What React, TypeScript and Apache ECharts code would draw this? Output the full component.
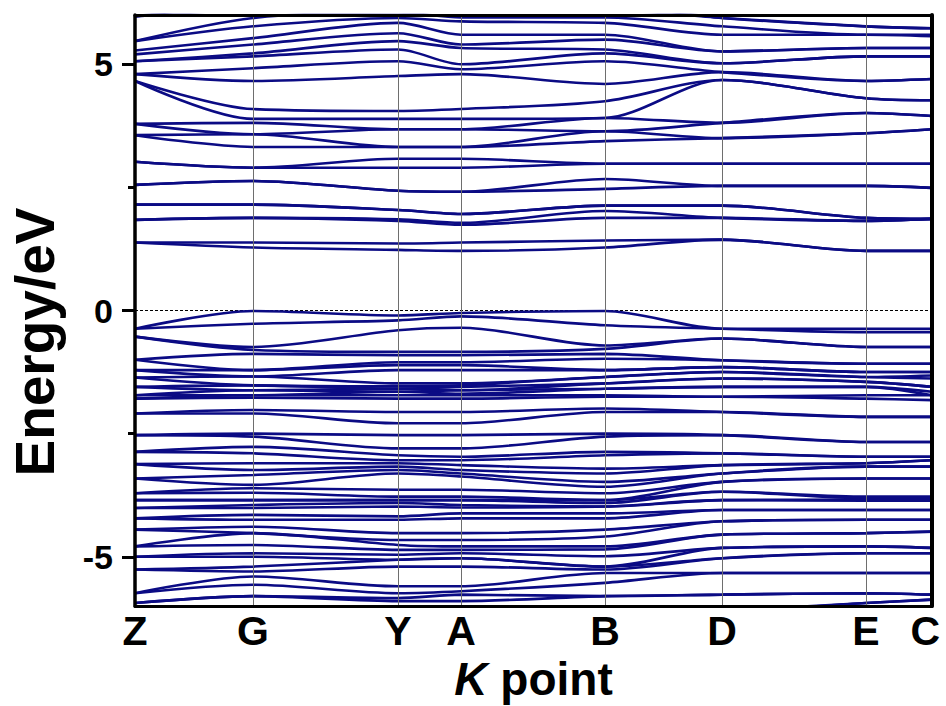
import React, { useEffect, useRef } from 'react';
import * as echarts from 'echarts';

// High-symmetry k-points and their positions along the path
const kLabels = ['Z', 'G', 'Y', 'A', 'B', 'D', 'E', 'C'];
const kPositions = [0, 118, 263, 326, 470, 587, 731, 797];

// Conduction bands (eV), sorted, at each k-point
const cbZ = [1.38, 1.38, 1.84, 1.84, 2.15, 2.15, 2.55, 2.55, 3.02, 3.02, 3.56, 3.56, 3.79, 3.79, 4.66, 4.66, 4.8, 4.8, 5.06, 5.06, 5.2, 5.28, 5.47, 5.47, 5.97, 5.97];
const cbG = [1.28, 1.38, 1.88, 1.88, 2.15, 2.15, 2.63, 2.63, 2.9, 2.9, 3.32, 3.58, 3.58, 3.81, 3.89, 4.09, 4.66, 4.92, 5.16, 5.22, 5.4, 5.53, 5.77, 5.94, 6.1, 6.2];
const cbY = [1.23, 1.36, 1.82, 1.85, 2.04, 2.04, 2.43, 2.43, 2.9, 3.08, 3.32, 3.32, 3.68, 3.68, 3.89, 4.05, 4.76, 5.06, 5.3, 5.47, 5.63, 5.84, 5.94, 6.05, 6.1, 6.2];
const cbA = [1.21, 1.38, 1.74, 1.78, 1.96, 1.96, 2.41, 2.41, 2.9, 3.08, 3.32, 3.32, 3.68, 3.68, 3.89, 4.09, 4.8, 4.9, 5.0, 5.33, 5.4, 5.6, 5.87, 5.95, 6.1, 6.2];
const cbB = [1.28, 1.42, 1.88, 2.02, 2.13, 2.13, 2.47, 2.67, 2.98, 2.98, 3.44, 3.64, 3.64, 3.91, 3.91, 4.25, 4.6, 5.06, 5.22, 5.3, 5.5, 5.6, 5.84, 5.95, 6.1, 6.2];
const cbD = [1.44, 1.44, 1.88, 1.88, 2.13, 2.13, 2.53, 2.53, 2.98, 2.98, 3.5, 3.5, 3.81, 3.81, 4.68, 4.68, 4.84, 4.84, 5.02, 5.02, 5.26, 5.26, 5.6, 5.77, 5.94, 5.94];
const cbE = [1.21, 1.21, 1.82, 1.82, 1.88, 1.88, 2.53, 2.53, 2.98, 2.98, 3.6, 3.6, 4.01, 4.01, 4.31, 4.31, 4.66, 4.66, 5.16, 5.16, 5.33, 5.33, 5.6, 5.6, 5.77, 5.77];
const cbC = [1.21, 1.21, 1.86, 1.86, 1.86, 1.86, 2.49, 2.49, 2.98, 2.98, 3.68, 3.68, 3.95, 3.95, 4.27, 4.27, 4.7, 4.7, 5.16, 5.16, 5.33, 5.33, 5.57, 5.6, 5.73, 5.73];

// Valence bands (eV), sorted, at each k-point (values below -6 lie outside the frame)
const vbZ = [-0.37, -0.37, -0.53, -0.53, -1.0, -1.0, -1.21, -1.21, -1.36, -1.36, -1.55, -1.55, -1.72, -1.72, -1.79, -1.79, -2.09, -2.09, -2.53, -2.53, -2.87, -2.87, -3.12, -3.12, -3.41, -3.41, -3.71, -3.71, -3.85, -3.85, -4.01, -4.01, -4.22, -4.22, -4.45, -4.45, -4.79, -4.79, -5.0, -5.0, -5.26, -5.26, -5.74, -5.74, -5.94, -5.94, -6.2, -6.2];
const vbG = [-0.01, -0.27, -0.74, -0.8, -0.88, -1.21, -1.21, -1.34, -1.34, -1.52, -1.52, -1.62, -1.62, -1.72, -1.72, -1.77, -2.02, -2.09, -2.5, -2.56, -2.77, -2.9, -3.1, -3.24, -3.34, -3.54, -3.61, -3.7, -3.85, -3.85, -3.95, -4.01, -4.15, -4.25, -4.39, -4.52, -4.52, -4.76, -4.93, -5.0, -5.2, -5.3, -5.4, -5.57, -5.8, -5.8, -6.1, -6.2];
const vbY = [-0.1, -0.2, -0.4, -0.84, -0.91, -1.05, -1.11, -1.21, -1.48, -1.54, -1.59, -1.59, -1.65, -1.65, -1.72, -1.79, -2.06, -2.29, -2.53, -2.8, -2.94, -3.04, -3.1, -3.17, -3.24, -3.31, -3.64, -3.78, -3.85, -3.85, -3.91, -3.98, -4.18, -4.25, -4.52, -4.66, -4.76, -4.86, -4.96, -5.06, -5.06, -5.2, -5.6, -5.74, -5.84, -5.9, -6.1, -6.2];
const vbA = [-0.05, -0.12, -0.35, -0.84, -0.91, -1.05, -1.11, -1.21, -1.48, -1.52, -1.55, -1.62, -1.62, -1.69, -1.72, -1.79, -2.06, -2.29, -2.53, -2.8, -2.97, -3.04, -3.14, -3.24, -3.31, -3.37, -3.64, -3.78, -3.85, -3.85, -3.95, -4.0, -4.12, -4.22, -4.52, -4.66, -4.79, -4.86, -4.93, -5.03, -5.03, -5.2, -5.6, -5.7, -5.77, -5.9, -6.1, -6.2];
const vbB = [-0.01, -0.3, -0.71, -0.78, -0.88, -0.98, -1.21, -1.21, -1.35, -1.35, -1.48, -1.48, -1.59, -1.59, -1.72, -1.75, -1.99, -2.06, -2.5, -2.56, -2.87, -2.94, -3.21, -3.31, -3.48, -3.58, -3.71, -3.85, -3.85, -3.91, -3.98, -3.98, -4.12, -4.22, -4.45, -4.59, -4.79, -4.85, -4.99, -5.2, -5.2, -5.26, -5.33, -5.53, -5.8, -5.8, -6.1, -6.2];
const vbD = [-0.37, -0.37, -0.57, -0.57, -1.01, -1.01, -1.15, -1.15, -1.25, -1.25, -1.38, -1.38, -1.55, -1.55, -1.75, -1.75, -2.06, -2.06, -2.53, -2.53, -2.9, -2.9, -3.14, -3.14, -3.31, -3.31, -3.48, -3.48, -3.68, -3.68, -3.85, -3.85, -4.05, -4.05, -4.28, -4.28, -4.55, -4.55, -4.82, -4.82, -5.03, -5.03, -5.33, -5.33, -5.77, -5.77, -6.1, -6.1];
const vbE = [-0.37, -0.44, -0.74, -0.74, -1.08, -1.08, -1.25, -1.25, -1.35, -1.35, -1.45, -1.45, -1.55, -1.55, -1.72, -1.79, -2.16, -2.16, -2.67, -2.67, -2.97, -2.97, -3.1, -3.1, -3.17, -3.17, -3.41, -3.41, -3.78, -3.81, -3.84, -3.86, -4.05, -4.05, -4.25, -4.25, -4.52, -4.52, -4.79, -4.79, -4.93, -4.93, -5.33, -5.33, -5.74, -5.74, -5.94, -5.94];
const vbC = [-0.37, -0.44, -0.74, -0.74, -1.08, -1.08, -1.25, -1.25, -1.32, -1.38, -1.55, -1.55, -1.65, -1.72, -1.72, -1.82, -2.16, -2.16, -2.67, -2.67, -2.97, -2.97, -3.04, -3.04, -3.17, -3.17, -3.41, -3.41, -3.78, -3.81, -3.84, -3.86, -4.05, -4.05, -4.25, -4.25, -4.49, -4.49, -4.82, -4.82, -4.93, -4.93, -5.33, -5.33, -5.77, -5.77, -5.87, -5.87];

const conduction = [cbZ, cbG, cbY, cbA, cbB, cbD, cbE, cbC];
const valence = [vbZ, vbG, vbY, vbA, vbB, vbD, vbE, vbC];

const yLabelTicks = [-5, 0, 5];
const yMinorTicks = [-2.5, 2.5];

const FONT = '"Liberation Sans", Arial, sans-serif';
const BAND_COLOR = '#0b0b84';

function bandsToLines(groups: number[][]) {
  const n = groups[0].length;
  const lines: number[][][] = [];
  for (let b = 0; b < n; b++) {
    lines.push(groups.map((g, i) => [kPositions[i], g[b]]));
  }
  return lines;
}

export default function App() {
  const ref = useRef<HTMLDivElement>(null);

  useEffect(() => {
    if (!ref.current) return;
    const chart = echarts.init(ref.current, undefined, { renderer: 'svg' });

    const allBands = [...bandsToLines(conduction), ...bandsToLines(valence)];
    const bandSeries = allBands.map((data, i) => ({
      name: 'band' + i,
      type: 'line',
      xAxisIndex: 0,
      yAxisIndex: 0,
      data,
      smooth: 0.3,
      showSymbol: false,
      symbol: 'none',
      silent: true,
      z: 3,
      lineStyle: { color: BAND_COLOR, width: 2.6 },
    }));

    const lastLabel = kLabels[kLabels.length - 1];

    const option: any = {
      animation: false,
      backgroundColor: '#fff',
      grid: { left: 135, right: 14, top: 15, bottom: 100, containLabel: false, outerBoundsMode: 'none' },
      xAxis: [
        {
          type: 'value',
          min: 0,
          max: 797,
          position: 'bottom',
          z: 10,
          axisLine: { show: true, onZero: false, lineStyle: { color: '#000', width: 3 } },
          axisTick: { show: false },
          splitLine: { show: false },
          axisLabel: {
            customValues: kPositions,
            formatter: (v: number) => {
              const name = kLabels[kPositions.indexOf(v)] ?? '';
              return name === lastLabel ? '{end|' + name + '}' : name;
            },
            color: '#000',
            fontSize: 41,
            lineHeight: 36,
            fontWeight: 'bold',
            fontFamily: FONT,
            margin: 7,
            rich: {
              end: {
                width: 16,
                align: 'right',
                color: '#000',
                fontSize: 41,
                lineHeight: 36,
                fontWeight: 'bold',
                fontFamily: FONT,
              },
            },
          },
          name: '{k|K} point',
          nameLocation: 'middle',
          nameGap: 50,
          nameMoveOverlap: false,
          nameTextStyle: {
            color: '#000',
            fontSize: 46,
            lineHeight: 46,
            fontWeight: 'bold',
            fontFamily: FONT,
            rich: {
              k: { fontSize: 46, lineHeight: 46, fontWeight: 'bold', fontStyle: 'italic', fontFamily: FONT, color: '#000' },
            },
          },
        },
        {
          type: 'value',
          min: 0,
          max: 797,
          position: 'top',
          z: 10,
          axisLine: { show: true, onZero: false, lineStyle: { color: '#000', width: 3 } },
          axisTick: { show: false },
          axisLabel: { show: false },
          splitLine: { show: false },
        },
      ],
      yAxis: [
        {
          type: 'value',
          min: -6,
          max: 6,
          position: 'left',
          z: 10,
          axisLine: { show: true, onZero: false, lineStyle: { color: '#000', width: 3.5 } },
          axisTick: { show: true, customValues: yLabelTicks, length: 13, lineStyle: { color: '#000', width: 3 } },
          axisLabel: {
            customValues: yLabelTicks,
            formatter: (v: number) => String(v),
            color: '#000',
            fontSize: 34,
            fontWeight: 'bold',
            fontFamily: FONT,
            margin: 22,
          },
          splitLine: { show: false },
        },
        {
          type: 'value',
          min: -6,
          max: 6,
          position: 'left',
          z: 10,
          axisLine: { show: false, onZero: false },
          axisTick: { show: true, customValues: yMinorTicks, length: 7, lineStyle: { color: '#000', width: 3 } },
          axisLabel: { show: false },
          splitLine: { show: false },
        },
        {
          type: 'value',
          min: -6,
          max: 6,
          position: 'right',
          z: 10,
          axisLine: { show: true, onZero: false, lineStyle: { color: '#000', width: 4 } },
          axisTick: { show: false },
          axisLabel: { show: false },
          splitLine: { show: false },
        },
      ],
      graphic: [
        {
          type: 'text',
          x: 35,
          y: 342,
          rotation: Math.PI / 2,
          style: {
            text: 'Energy/eV',
            font: 'bold 55px ' + FONT,
            fill: '#000',
            textAlign: 'center',
            textVerticalAlign: 'middle',
          },
        },
      ],
      series: [
        {
          name: 'fermi',
          type: 'line',
          xAxisIndex: 0,
          yAxisIndex: 0,
          data: [[0, 0], [797, 0]],
          showSymbol: false,
          symbol: 'none',
          silent: true,
          z: 1,
          lineStyle: { color: '#000', width: 1, type: [3, 2] },
          markLine: {
            silent: true,
            symbol: 'none',
            label: { show: false },
            lineStyle: { color: '#6e6e6e', width: 1, type: 'solid' },
            data: kPositions.slice(1, -1).map((x) => ({ xAxis: x })),
          },
        },
        ...bandSeries,
      ],
    };

    chart.setOption(option);
    return () => chart.dispose();
  }, []);

  return (
    <div
      ref={ref}
      style={{ position: 'absolute', left: 0, top: 0, width: 946, height: 706 }}
    />
  );
}
